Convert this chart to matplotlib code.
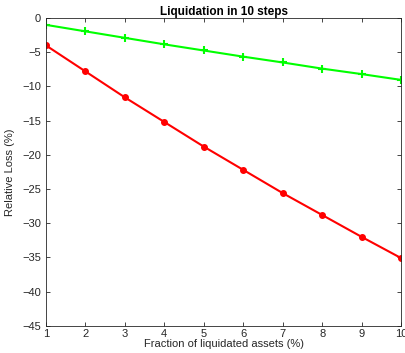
import matplotlib
matplotlib.use('Agg')
import matplotlib.pyplot as plt

steps = [1, 2, 3, 4, 5, 6, 7, 8, 9, 10]
loss_green = [-1.0, -1.95, -2.9, -3.85, -4.75, -5.65, -6.5, -7.4, -8.2, -9.05]
loss_red = [-4.0, -7.8, -11.6, -15.2, -18.8, -22.2, -25.6, -28.8, -32.0, -35.1]
yticks = [0, -5, -10, -15, -20, -25, -30, -35, -40, -45]

plt.rcParams['font.family'] = ['Liberation Sans', 'DejaVu Sans']

fig = plt.figure(figsize=(4.06, 3.53), dpi=100)
fig.patch.set_facecolor('white')
ax = fig.add_axes([0.113, 0.077, 0.875, 0.872])

ax.plot(steps, loss_green, color='#00ff00', lw=1.5, marker='+',
        markersize=6, markeredgewidth=1.5)
ax.plot(steps, loss_red, color='#ff0000', lw=1.5, marker='o',
        markersize=4)

ax.set_xlim(1, 10)
ax.set_ylim(-45, 0)
ax.set_xticks(steps)
ax.set_yticks(yticks)
ax.tick_params(direction='in', top=True, right=True, labelsize=8,
               length=3, width=0.6, color='#262626', labelcolor='#262626')
ax.tick_params(axis='x', pad=2)
for s in ax.spines.values():
    s.set_linewidth(0.6)
    s.set_color('#262626')

ax.set_xlabel('Fraction of liquidated assets (%)', fontsize=8,
              color='#262626', labelpad=0)
ax.set_ylabel('Relative Loss (%)', fontsize=8, color='#262626', labelpad=5)
ax.set_title('Liquidation in 10 steps', fontsize=8.5, fontweight='bold',
             pad=2)

plt.savefig('out.png', dpi=100, facecolor='white')
plt.close()
